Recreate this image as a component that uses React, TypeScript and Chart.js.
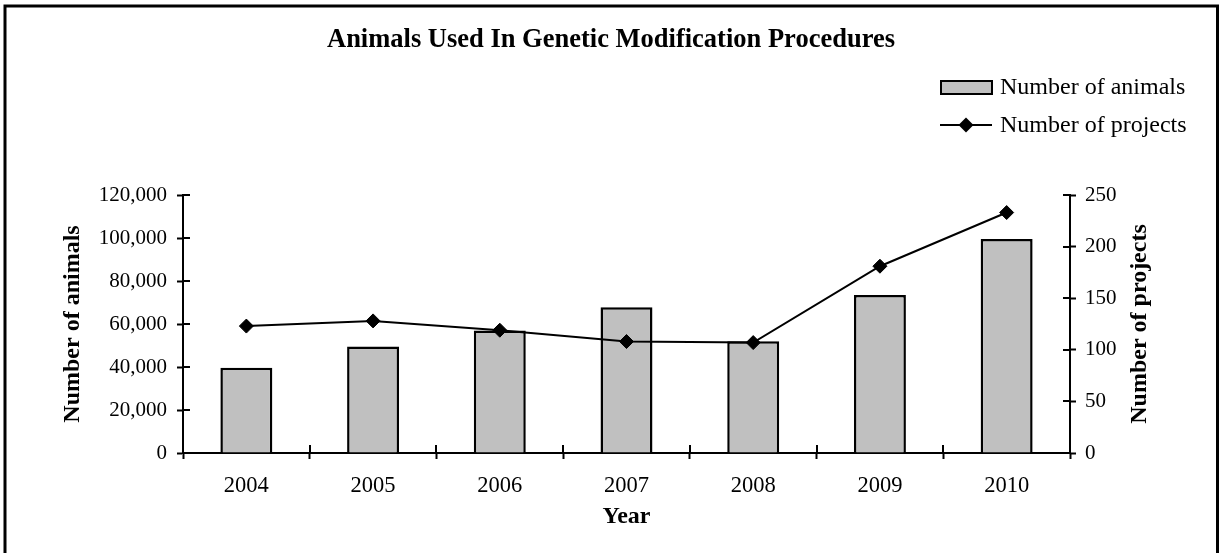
import React, { useEffect, useRef } from "react";
import { Chart, registerables } from "chart.js";

Chart.register(...registerables);

const years = ["2004", "2005", "2006", "2007", "2008", "2009", "2010"];
const animals = [39700, 49500, 57000, 67800, 52000, 73500, 99500];
const projects = [123, 128, 119, 108, 107, 181, 233];
const chartTitle = "Animals Used In Genetic Modification Procedures";
const animalsLabel = "Number of animals";
const projectsLabel = "Number of projects";
const xTitle = "Year";

const FONT = "'Liberation Serif', 'Times New Roman', serif";
const BAR_FILL = "#c0c0c0";

const decor = {
  id: "decor",
  afterDraw(chart: any) {
    const ctx = chart.ctx as CanvasRenderingContext2D;
    const { x, y, y1 } = chart.scales;
    ctx.save();
    // outer frame
    ctx.strokeStyle = "#000";
    ctx.lineWidth = 3;
    ctx.strokeRect(5, 6, 1212.5, 600);

    // title
    ctx.fillStyle = "#000";
    ctx.font = `bold 26.5px ${FONT}`;
    ctx.textAlign = "center";
    ctx.textBaseline = "alphabetic";
    ctx.fillText(chartTitle, 611, 47);

    // legend
    ctx.lineWidth = 2;
    ctx.fillStyle = BAR_FILL;
    ctx.fillRect(941, 81, 51, 13);
    ctx.strokeRect(941, 81, 51, 13);
    ctx.beginPath();
    ctx.moveTo(940, 125);
    ctx.lineTo(992, 125);
    ctx.stroke();
    ctx.fillStyle = "#000";
    ctx.beginPath();
    ctx.moveTo(966 - 7.5, 125);
    ctx.lineTo(966, 125 - 7.5);
    ctx.lineTo(966 + 7.5, 125);
    ctx.lineTo(966, 125 + 7.5);
    ctx.closePath();
    ctx.fill();
    ctx.font = `24px ${FONT}`;
    ctx.textAlign = "left";
    ctx.textBaseline = "middle";
    ctx.fillText(animalsLabel, 1000, 88);
    ctx.fillText(projectsLabel, 1000, 126);

    // right axis title (reads bottom to top)
    ctx.save();
    ctx.translate(1140, (chart.chartArea.top + chart.chartArea.bottom) / 2);
    ctx.rotate(-Math.PI / 2);
    ctx.font = `bold 24px ${FONT}`;
    ctx.textAlign = "center";
    ctx.textBaseline = "middle";
    ctx.fillText(projectsLabel, 0, 0);
    ctx.restore();

    // inward halves of crossing tick marks
    ctx.strokeStyle = "#000";
    ctx.lineWidth = 2;
    ctx.beginPath();
    y.ticks.forEach((_: any, i: number) => {
      const py = Math.round(y.getPixelForTick(i));
      ctx.moveTo(y.right, py);
      ctx.lineTo(y.right + 7, py);
    });
    y1.ticks.forEach((_: any, i: number) => {
      const py = Math.round(y1.getPixelForTick(i));
      ctx.moveTo(y1.left - 7, py);
      ctx.lineTo(y1.left, py);
    });
    const half = (x.getPixelForValue(1) - x.getPixelForValue(0)) / 2;
    for (let i = 0; i <= years.length; i++) {
      const px = Math.round(x.getPixelForValue(i) - half);
      ctx.moveTo(px, x.top - 8);
      ctx.lineTo(px, x.top);
    }
    ctx.stroke();
    ctx.restore();
  },
};

export default function App() {
  const ref = useRef<HTMLCanvasElement>(null);
  useEffect(() => {
    document.body.style.margin = "0";
    const chart = new Chart(ref.current!, {
      type: "bar",
      data: {
        labels: years,
        datasets: [
          {
            type: "line",
            label: projectsLabel,
            data: projects,
            yAxisID: "y1",
            borderColor: "#000",
            backgroundColor: "#000",
            borderWidth: 2,
            pointStyle: "rectRot",
            pointRadius: 7,
            pointBorderWidth: 1,
            pointBackgroundColor: "#000",
            pointBorderColor: "#000",
            order: 0,
          } as any,
          {
            type: "bar",
            label: animalsLabel,
            data: animals,
            yAxisID: "y",
            backgroundColor: BAR_FILL,
            borderColor: "#000",
            borderWidth: 2.5,
            categoryPercentage: 1,
            barPercentage: 0.41,
            order: 1,
          },
        ],
      },
      options: {
        responsive: false,
        animation: false,
        devicePixelRatio: 1,
        layout: { padding: { top: 195, left: 50, right: 50, bottom: 10 } },
        plugins: {
          legend: { display: false },
          title: { display: false },
          tooltip: { enabled: false },
        },
        scales: {
          x: {
            grid: {
              offset: true,
              drawOnChartArea: false,
              drawTicks: true,
              tickLength: 6,
              tickColor: "#000",
              tickWidth: 2,
            },
            border: { display: true, color: "#000", width: 2 },
            ticks: { color: "#000", font: { family: FONT, size: 22.5 }, padding: 14 },
            title: {
              display: true,
              text: xTitle,
              color: "#000",
              font: { family: FONT, size: 24, weight: "bold" },
              padding: { top: 0, bottom: 12 },
            },
            afterFit: (s: any) => {
              s.height = 90;
            },
          },
          y: {
            position: "left",
            min: 0,
            max: 120000,
            ticks: {
              stepSize: 20000,
              color: "#000",
              font: { family: FONT, size: 21 },
              padding: 10,
              callback: (v: any) => Number(v).toLocaleString("en-US"),
            },
            grid: {
              drawOnChartArea: false,
              drawTicks: true,
              tickLength: 6,
              tickColor: "#000",
              tickWidth: 2,
            },
            border: { display: true, color: "#000", width: 2 },
            title: {
              display: true,
              text: animalsLabel,
              color: "#000",
              font: { family: FONT, size: 24, weight: "bold" },
              padding: { top: 8, bottom: 0 },
            },
            afterFit: (s: any) => {
              s.width = 133;
            },
          },
          y1: {
            position: "right",
            min: 0,
            max: 250,
            ticks: {
              stepSize: 50,
              color: "#000",
              font: { family: FONT, size: 21 },
              padding: 9,
            },
            grid: {
              drawOnChartArea: false,
              drawTicks: true,
              tickLength: 6,
              tickColor: "#000",
              tickWidth: 2,
            },
            border: { display: true, color: "#000", width: 2 },
            afterFit: (s: any) => {
              s.width = 99;
            },
          },
        },
      },
      plugins: [decor],
    });
    return () => chart.destroy();
  }, []);
  return (
    <canvas
      ref={ref}
      width={1219}
      height={553}
      style={{ display: "block", width: "1219px", height: "553px" }}
    />
  );
}
